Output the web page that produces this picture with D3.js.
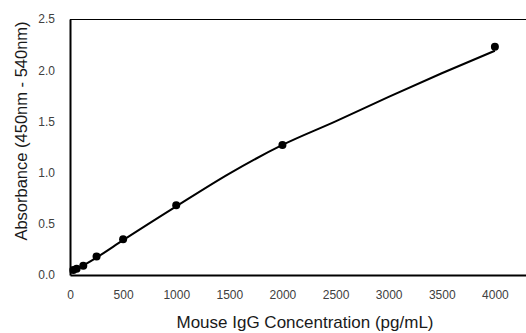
<!DOCTYPE html>
<html>
<head>
<meta charset="utf-8">
<script src="https://cdn.jsdelivr.net/npm/d3@7"></script>
<style>
  html, body { margin: 0; padding: 0; background: #fff; }
  svg { display: block; font-family: "Liberation Sans", Arial, sans-serif; }
</style>
</head>
<body>
<div id="chart"></div>
<script>
// measured standards
const concentrations = [31.25, 62.5, 125, 250, 500, 1000, 2000, 4000];
const absorbances = [0.05, 0.06, 0.09, 0.18, 0.35, 0.68, 1.27, 2.23];

// fitted curve
const fitConcentrations = [0, 250, 500, 1000, 1500, 2000, 2500, 3000, 3500, 4000];
const fitAbsorbances = [0.02, 0.17, 0.34, 0.67, 0.99, 1.27, 1.50, 1.74, 1.97, 2.19];

// ticks
const xTicks = [0, 500, 1000, 1500, 2000, 2500, 3000, 3500, 4000];
const yTicks = [0.0, 0.5, 1.0, 1.5, 2.0, 2.5];

const width = 526;
const height = 333;
const margins = { top: 19, bottom: 58, left: 70, right: -22 };

const svg = d3.select('#chart')
    .append('svg')
    .attr('width', width)
    .attr('height', height);

// scales
const xScale = d3.scaleLinear()
    .domain([0, 4500])
    .range([margins.left, width - margins.right]);

const yScale = d3.scaleLinear()
    .domain([0, 2.5])
    .range([height - margins.bottom, margins.top]);

// top border of the plot area
svg.append('line')
    .attr('x1', xScale(0))
    .attr('x2', xScale(4500))
    .attr('y1', yScale(2.5) + 0.5)
    .attr('y2', yScale(2.5) + 0.5)
    .attr('stroke', '#000')
    .attr('stroke-width', 1);

// axes
const xAxisGroup = svg.append('g')
    .attr('transform', `translate(0,${yScale(0)})`)
    .call(d3.axisBottom(xScale).tickValues(xTicks).tickSize(0).tickPadding(15).tickFormat(d3.format('d')));

const yAxisGroup = svg.append('g')
    .attr('transform', `translate(${xScale(0)},0)`)
    .call(d3.axisLeft(yScale).tickValues(yTicks).tickSize(0).tickPadding(15).tickFormat(d3.format('.1f')));

[xAxisGroup, yAxisGroup].forEach(g => {
    g.select('.domain').attr('stroke', '#000').attr('stroke-width', 2);
    g.selectAll('text').attr('fill', '#404040').style('font-size', '12px');
});

// axis titles
svg.append('text')
    .attr('x', 305)
    .attr('y', 328)
    .attr('text-anchor', 'middle')
    .attr('fill', '#1a1a1a')
    .style('font-size', '17px')
    .text('Mouse IgG Concentration (pg/mL)');

svg.append('text')
    .attr('transform', `translate(27,131) rotate(-90)`)
    .attr('text-anchor', 'middle')
    .attr('fill', '#1a1a1a')
    .style('font-size', '16.5px')
    .text('Absorbance (450nm - 540nm)');

// fitted line
svg.append('path')
    .datum(fitConcentrations)
    .attr('fill', 'none')
    .attr('stroke', '#000')
    .attr('stroke-width', 2)
    .attr('d', d3.line()
        .curve(d3.curveMonotoneX)
        .x(d => xScale(d))
        .y((d, i) => yScale(fitAbsorbances[i])));

// points
svg.append('g')
    .selectAll('circle')
    .data(concentrations)
    .join('circle')
    .attr('cx', d => xScale(d))
    .attr('cy', (d, i) => yScale(absorbances[i]))
    .attr('r', 4)
    .attr('fill', '#000');
</script>
</body>
</html>
